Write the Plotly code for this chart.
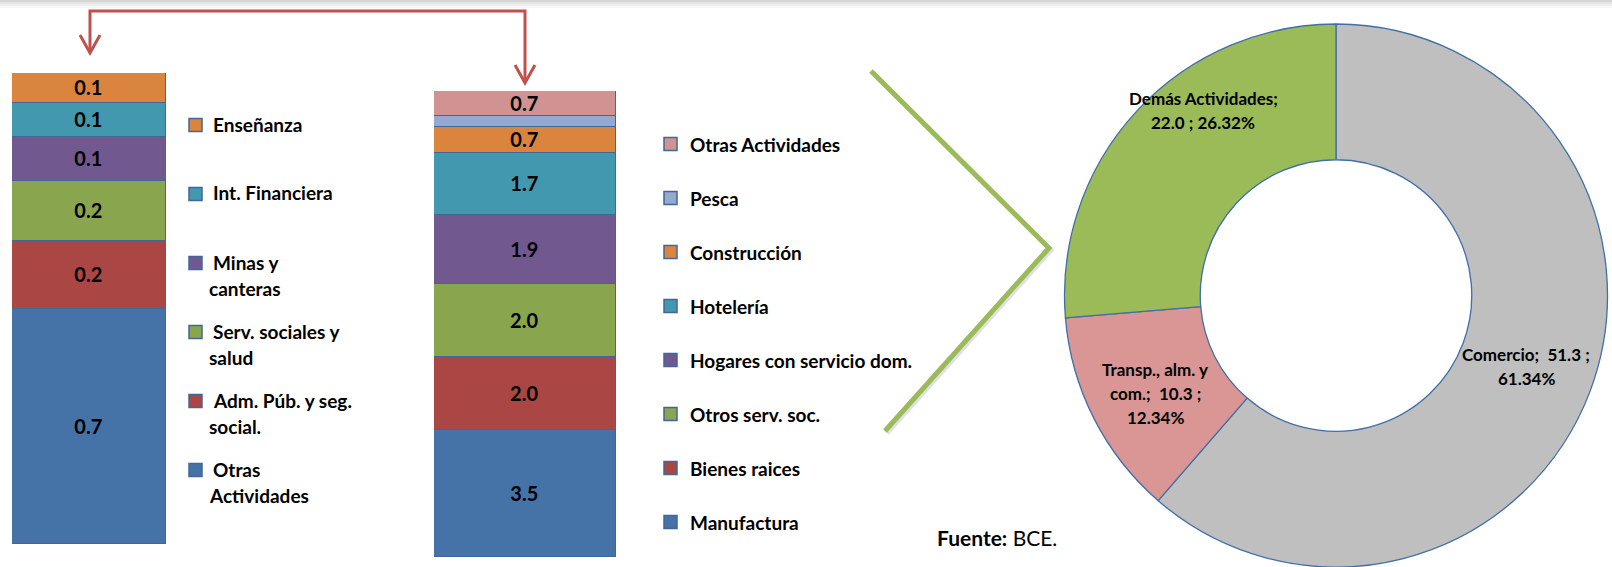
import plotly.graph_objects as go

W, H = 1612, 567

# left stacked bar (bottom -> top)
left_cats = ["Otras Actividades", "Adm. Púb. y seg. social.", "Serv. sociales y salud",
             "Minas y canteras", "Int. Financiera", "Enseñanza"]
left_vals = [0.70, 0.20, 0.18, 0.13, 0.10, 0.09]
# legend text as wrapped in the original (top -> bottom)
left_legend = [["Enseñanza"], ["Int. Financiera"], ["Minas y", "canteras"],
               ["Serv. sociales y", "salud"], ["Adm. Púb. y seg.", "social."],
               ["Otras", "Actividades"]]

# middle stacked bar (bottom -> top)
mid_cats = ["Manufactura", "Bienes raices", "Otros serv. soc.", "Hogares con servicio dom.",
            "Hotelería", "Construcción", "Pesca", "Otras Actividades"]
mid_vals = [3.5, 2.0, 2.0, 1.9, 1.7, 0.7, 0.3, 0.7]

# donut
donut_labels = ["Comercio", "Transp., alm. y com.", "Demás Actividades"]
donut_values = [51.3, 10.3, 22.0]
donut_pcts = [61.34, 12.34, 26.32]

left_colors = ["#4572A7", "#AA4643", "#89A54E", "#71588F", "#4198AF", "#DB843D"]
mid_colors = ["#4572A7", "#AA4643", "#89A54E", "#71588F", "#4198AF", "#DB843D", "#93A9CF", "#D19392"]
donut_colors = ["#BFBFBF", "#D99694", "#9BBB59"]

FONT = "Lato"
BORDER = "#41679A"


def px(x):
    return x / W


def py(y):
    return 1 - y / H


fig = go.Figure()

for cat, val, col in zip(left_cats, left_vals, left_colors):
    fig.add_trace(go.Bar(
        x=[0], y=[val], name=cat, width=1,
        marker=dict(color=col, line=dict(color=BORDER, width=1.5)),
        texttemplate="%{y:.1f}", textposition="inside", insidetextanchor="middle",
        constraintext="none", textfont=dict(family=FONT, size=20, color="black", weight="bold"),
        xaxis="x", yaxis="y", showlegend=False, hoverinfo="name+y"))

for cat, val, col in zip(mid_cats, mid_vals, mid_colors):
    fig.add_trace(go.Bar(
        x=[0], y=[val], name=cat, width=1,
        marker=dict(color=col, line=dict(color=BORDER, width=1.5)),
        texttemplate="%{y:.1f}", textposition="inside" if val >= 0.5 else "none",
        insidetextanchor="middle", constraintext="none",
        textfont=dict(family=FONT, size=20, color="black", weight="bold"),
        xaxis="x2", yaxis="y2", showlegend=False, hoverinfo="name+y"))

fig.add_trace(go.Pie(
    labels=donut_labels, values=donut_values, hole=0.5, sort=False,
    direction="clockwise", rotation=0, textinfo="none",
    marker=dict(colors=donut_colors, line=dict(color="#3F6FA8", width=1.3)),
    domain=dict(x=[px(1336 - 271.5), px(1336 + 271.5)], y=[0, py(24)]),
    showlegend=False))

shapes = []
annotations = []

# faint gray band at the top
for i, c in enumerate(["#D6D6D6", "#E4E4E4", "#EFEFEF", "#F7F7F7"]):
    shapes.append(dict(type="rect", xref="paper", yref="paper", x0=0, x1=1,
                       y0=py(2 * i + 2), y1=py(2 * i), fillcolor=c, line=dict(width=0), layer="below"))


def path(points):
    return "M" + " L".join(f"{px(x)},{py(y)}" for x, y in points)


red = dict(color="#C0504D", width=3)
shapes.append(dict(type="path", xref="paper", yref="paper",
                   path=path([(90, 53), (90, 11), (525, 11), (525, 83)]), line=red))
shapes.append(dict(type="path", xref="paper", yref="paper",
                   path=path([(80, 35), (90, 53), (100, 35)]), line=red))
shapes.append(dict(type="path", xref="paper", yref="paper",
                   path=path([(515, 65), (525, 83), (535, 65)]), line=red))

chev = [(871, 71), (1049, 248), (885, 431)]
shapes.append(dict(type="path", xref="paper", yref="paper",
                   path=path([(x + 2, y + 2) for x, y in chev]),
                   line=dict(color="rgba(0,0,0,0.12)", width=5)))
shapes.append(dict(type="path", xref="paper", yref="paper",
                   path=path(chev), line=dict(color="#9BBB59", width=5)))


def text(s, x, y, size=19, anchor="left", bold=True):
    annotations.append(dict(text=s, x=px(x), y=py(y), xref="paper", yref="paper",
                            xanchor=anchor, yanchor="middle", showarrow=False,
                            font=dict(family=FONT, size=size, color="black",
                                      weight="bold" if bold else "normal")))


def swatch(x, y, col):
    shapes.append(dict(type="rect", xref="paper", yref="paper",
                       x0=px(x), x1=px(x + 13), y0=py(y + 6.5), y1=py(y - 6.5),
                       fillcolor=col, line=dict(color=BORDER, width=1.5)))


# left legend (top -> bottom)
for i, (lines, col) in enumerate(zip(left_legend, left_colors[::-1])):
    yc = 124 + 69 * i
    swatch(189, yc + 1, col)
    for j, ln in enumerate(lines):
        text(ln, 211 if j == 0 else 207, yc + 26 * j)

# middle legend (top -> bottom)
for i, (cat, col) in enumerate(zip(mid_cats[::-1], mid_colors[::-1])):
    yc = 144 + 54 * i
    swatch(664, yc, col)
    text(cat, 688, yc)

# donut labels
donut_fmt = ["{l};  {v:.1f} ;|{p:.2f}%", "Transp., alm. y|com.;  {v:.1f} ;|{p:.2f}%",
             "{l};|{v:.1f} ; {p:.2f}%"]
donut_pos = [(1526, 354), (1155, 369), (1203, 98)]
for lab, val, pct, fmt, (x, y) in zip(donut_labels, donut_values, donut_pcts, donut_fmt, donut_pos):
    for j, ln in enumerate(fmt.format(l=lab, v=val, p=pct).split("|")):
        text(ln, x, y + 24 * j, size=17, anchor="center")

annotations.append(dict(text="<b>Fuente:</b> BCE.", x=px(935), y=py(537), xref="paper", yref="paper",
                        xanchor="left", yanchor="middle", showarrow=False,
                        font=dict(family=FONT, size=21, color="black")))

fig.update_layout(
    width=W, height=H, margin=dict(l=0, r=0, t=0, b=0),
    paper_bgcolor="white", plot_bgcolor="white",
    barmode="stack", bargap=0,
    xaxis=dict(domain=[px(12), px(166)], range=[-0.5, 0.5], visible=False, fixedrange=True),
    yaxis=dict(domain=[py(544), py(73)], range=[0, sum(left_vals)], visible=False, fixedrange=True),
    xaxis2=dict(domain=[px(434), px(616)], range=[-0.5, 0.5], visible=False, anchor="y2", fixedrange=True),
    yaxis2=dict(domain=[py(557), py(91)], range=[0, sum(mid_vals)], visible=False, anchor="x2", fixedrange=True),
    shapes=shapes, annotations=annotations, showlegend=False,
)

fig.write_html("out.html", config={"displayModeBar": False},
               post_script="document.body.style.margin='0';document.body.style.overflow='hidden';")
